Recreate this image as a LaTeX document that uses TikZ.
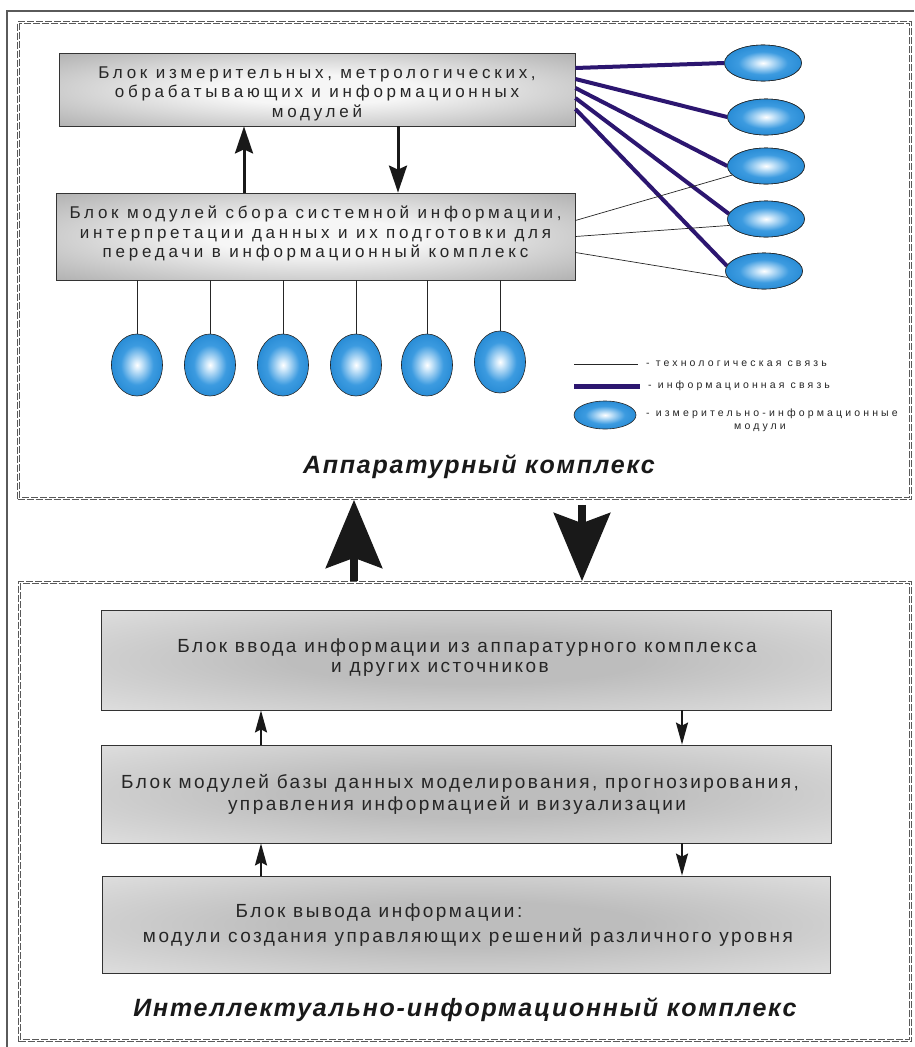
\documentclass[tikz,border=0pt]{standalone}
\usepackage{fontspec}
\setmainfont{Liberation Sans}
\newfontfamily\upfont{Liberation Sans}[LetterSpace=22]
\newfontfamily\lowfont{Liberation Sans}[LetterSpace=13]
\newfontfamily\legfont{Liberation Sans}[LetterSpace=30]
\newfontfamily\titfont{Liberation Sans}[LetterSpace=7]
\usetikzlibrary{shapes.geometric,arrows.meta}
\definecolor{framegray}{HTML}{5A5A5A}
\definecolor{infocol}{HTML}{2C1670}
\definecolor{ballout}{HTML}{0F78C8}
\definecolor{ballmid}{HTML}{3C9BE0}
\definecolor{ballin}{HTML}{CFE8FA}
\definecolor{upedge}{HTML}{8A8A8A}
\definecolor{upmid}{HTML}{F6F6F6}
\definecolor{lowmid}{HTML}{BDBDBD}
\definecolor{lowedge}{HTML}{F2F2F2}
\pgfdeclareradialshading{ballshade}{\pgfpoint{0bp}{0bp}}{color(0bp)=(white); color(4bp)=(ballin); color(16bp)=(ballmid); color(38bp)=(ballout); color(50bp)=(ballout)}
\pgfdeclareradialshading{upshade}{\pgfpoint{0bp}{0bp}}{color(0bp)=(upmid); color(10bp)=(upmid); color(50bp)=(upedge); color(72bp)=(upedge)}
\pgfdeclareradialshading{lowshade}{\pgfpoint{0bp}{0bp}}{color(0bp)=(lowmid); color(12bp)=(lowmid); color(50bp)=(lowedge); color(72bp)=(lowedge)}
\tikzset{
  dashline/.style={draw=black!65, line width=0.7pt, dash pattern=on 7pt off 2pt},
  dashbox/.style={dashline, inner sep=0pt},
  upbox/.style={draw=black!80, line width=0.8pt, shading=upshade, inner sep=0pt},
  lowbox/.style={draw=black!80, line width=0.8pt, shading=lowshade, inner sep=0pt},
  uptext/.style={font=\upfont\fontsize{17}{19.5}\selectfont, align=center, text=black!85, inner sep=0pt},
  lowtext/.style={font=\lowfont\fontsize{19}{20}\selectfont, text=black!85, inner sep=0pt},
  legtext/.style={font=\legfont\fontsize{10.5}{12}\selectfont, text=black!85, inner sep=0pt},
  titletext/.style={font=\titfont\bfseries\itshape\fontsize{25}{28}\selectfont, text=black!90, inner sep=0pt},
  ball/.style={ellipse, draw=black!85, line width=0.6pt, shading=ballshade, inner sep=0pt},
  rball/.style={ball, minimum width=77pt, minimum height=36pt},
  bball/.style={ball, minimum width=51pt, minimum height=62pt},
  techline/.style={draw=black!85, line width=0.7pt},
  infoconn/.style={draw=infocol, line width=4pt},
  midarrow/.style={draw=black!90, line width=3pt, -{Stealth[length=27pt,width=18pt,inset=4pt]}},
  smallarrow/.style={draw=black!90, line width=2pt, -{Stealth[length=22pt,width=12pt,inset=3pt]}},
  bigarrow/.style={draw=black!90, fill=black!90, line width=8pt, -{Stealth[length=68pt,width=56pt,inset=10pt]}}
}
\begin{document}
\begin{tikzpicture}[x=1pt,y=-1pt]
\useasboundingbox (0,0) rectangle (914,1047);
\fill[white] (0,0) rectangle (914,1047);
% outer frame
\draw[framegray, line width=1.8pt] (7,1047) -- (7,11) -- (914,11);
% dashed frames (double dashed line)
\node[dashbox, minimum width=894pt, minimum height=478pt] (top) at (464.5,260.5) {};
\draw[dashline] ([shift={(2.2pt,-2.2pt)}]top.north west) rectangle ([shift={(-2.2pt,2.2pt)}]top.south east);
\node[dashbox, minimum width=893pt, minimum height=460pt] (bot) at (465,811.5) {};
\draw[dashline] ([shift={(2.2pt,-2.2pt)}]bot.north west) rectangle ([shift={(-2.2pt,2.2pt)}]bot.south east);

% upper boxes
\node[upbox, minimum width=516pt, minimum height=73pt] (b1) at (317,89.5) {};
\node[uptext] (t1) at (317,93.5) {Блок измерительных, метрологических,\\обрабатывающих и информационных\\модулей};
\node[upbox, minimum width=519pt, minimum height=87pt] (b2) at (315.5,236.5) {};
\node[uptext] (t2) at (315.5,233.5) {Блок модулей сбора системной информации,\\интерпретации данных и их подготовки для\\передачи в информационный комплекс};

\coordinate (xa) at (244,0);
\coordinate (xb) at (398,0);
\draw[midarrow] (b2.north -| xa) -- (b1.south -| xa);
\draw[midarrow] (b1.south -| xb) -- (b2.north -| xb);

% right modules
\node[rball] (e1) at (763,63) {};
\node[rball] (e2) at (766,117) {};
\node[rball] (e3) at (766,166) {};
\node[rball] (e4) at (766,219) {};
\node[rball] (e5) at (764,271) {};
\draw[infoconn] ([yshift=21.5pt]b1.east) -- (e1.west);
\draw[infoconn] ([yshift=10.5pt]b1.east) -- (e2.west);
\draw[infoconn] ([yshift=1.5pt]b1.east) -- (e3.west);
\draw[infoconn] ([yshift=-8.5pt]b1.east) -- (e4.172);
\draw[infoconn] ([yshift=-19.5pt]b1.east) -- (e5.172);
\draw[techline] ([yshift=16pt]b2.east) -- (e3.195);
\draw[techline] (b2.east) -- (e4.190);
\draw[techline] ([yshift=-16pt]b2.east) -- (e5.190);
\node[rball] at (e1) {};
\node[rball] at (e2) {};
\node[rball] at (e3) {};
\node[rball] at (e4) {};
\node[rball] at (e5) {};

% bottom modules
\node[bball] (f1) at (137,365) {};
\node[bball] (f2) at (210,365) {};
\node[bball] (f3) at (283,365) {};
\node[bball] (f4) at (356,365) {};
\node[bball] (f5) at (427,365) {};
\node[bball] (f6) at (500,362) {};
\foreach \i in {1,...,6} \draw[techline] (b2.south -| f\i.north) -- (f\i.north);

% legend
\coordinate (l1a) at (574,364);
\coordinate (l1b) at (638,364);
\draw[techline] (l1a) -- (l1b);
\node[legtext, anchor=west] (lt1) at (646,364) {- технологическая связь};
\coordinate (l2a) at (574,386);
\coordinate (l2b) at (640,386);
\draw[infocol, line width=5pt] (l2a) -- (l2b);
\node[legtext, anchor=west] (lt2) at (648,386) {- информационная связь};
\node[ball, minimum width=62pt, minimum height=28pt] (lb) at (605,415) {};
\node[legtext, anchor=west] (lt3) at (646,414) {- измерительно-информационные};
\node[legtext] (lt4) at (760,428) {модули};

\node[titletext] (tt1) at (479,467) {Аппаратурный комплекс};

% big arrows
\coordinate (xu) at (354,0);
\coordinate (xd) at (582,0);
\coordinate (dstart) at ([yshift=-5pt]top.south);
\draw[bigarrow] (bot.north -| xu) -- (top.south -| xu);
\draw[bigarrow] (dstart -| xd) -- (bot.north -| xd);

% lower boxes
\node[lowbox, minimum width=730pt, minimum height=100pt] (ba) at (466,660) {};
\node[lowtext] (ta1) at (467,648) {Блок ввода информации из аппаратурного комплекса};
\node[lowtext] (ta2) at (440,669) {и других источников};
\node[lowbox, minimum width=730pt, minimum height=98pt] (bb) at (466,794) {};
\node[lowtext] (tb1) at (460,783) {Блок модулей базы данных моделирования, прогнозирования,};
\node[lowtext] (tb2) at (457,805) {управления информацией и визуализации};
\node[lowbox, minimum width=728pt, minimum height=97pt] (bc) at (466,924.5) {};
\node[lowtext] (tc1) at (379,913) {Блок вывода информации:};
\node[lowtext] (tc2) at (468,937) {модули создания управляющих решений различного уровня};

\coordinate (xl) at (261,0);
\coordinate (xr) at (682,0);
\draw[smallarrow] (bb.north -| xl) -- (ba.south -| xl);
\draw[smallarrow] (ba.south -| xr) -- (bb.north -| xr);
\draw[smallarrow] (bc.north -| xl) -- (bb.south -| xl);
\draw[smallarrow] (bb.south -| xr) -- (bc.north -| xr);

\node[titletext] (tt2) at (465,1010) {Интеллектуально-информационный комплекс};
\end{tikzpicture}
\end{document}
